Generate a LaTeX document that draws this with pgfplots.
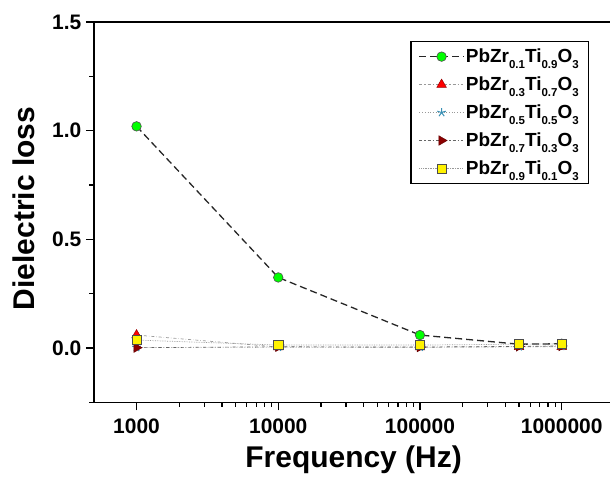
\documentclass[border=0pt]{standalone}
\usepackage{fontspec}
\setmainfont{Liberation Sans}
\usepackage{pgfplots}
\pgfplotsset{compat=1.18}
\usetikzlibrary{plotmarks}

\newcommand\sub[1]{\raisebox{-0.6ex}{\fontsize{11.5}{11.5}\selectfont\bfseries #1}}
\newcommand\pzt[2]{PbZr\sub{#1}Ti\sub{#2}O\sub{3}}

\begin{document}
\begin{tikzpicture}
\begin{axis}[
    scale only axis,
    width=517pt, height=381pt,
    xmode=log,
    xmin=500, xmax=2.2e6,
    ymin=-0.25, ymax=1.5,
    axis x line=box, axis y line=left,
    axis line style={-, line width=1.6pt},
    xtick pos=bottom, ytick pos=left,
    tick align=outside,
    major tick length=8pt, minor tick length=4.5pt,
    every tick/.style={black, line width=1.3pt},
    xtick={1000,10000,100000,1000000},
    xticklabels={1000,10000,100000,1000000},
    ytick={0,0.5,1,1.5},
    yticklabels={0.0,0.5,1.0,1.5},
    minor ytick={-0.25,0.25,0.75,1.25},
    ticklabel style={font=\fontsize{21}{21}\selectfont\bfseries},
    yticklabel style={xshift=-1pt},
    xticklabel style={yshift=-5pt},
    /pgf/number format/assume math mode=true,
    xlabel={Frequency (Hz)},
    ylabel={Dielectric loss},
    every axis x label/.style={at={(axis description cs:0.503,-0.15)}, anchor=center,
        font=\fontsize{30}{30}\selectfont\bfseries},
    every axis y label/.style={at={(axis description cs:-0.135,0.51)}, rotate=90, anchor=center,
        font=\fontsize{30}{30}\selectfont\bfseries},
    legend style={at={(0.613,0.950)}, anchor=north west,
        font=\fontsize{19}{19}\selectfont\bfseries,
        draw=black, line width=1.3pt, inner xsep=8pt, inner ysep=5.5pt,
        row sep=9pt, cells={anchor=west, text height=13.5pt, text depth=6pt}},
    legend image code/.code={
        \draw[#1, line width=0.8pt, mark repeat=2, mark phase=2]
            plot coordinates {(0cm,0cm) (0.78cm,0cm) (1.55cm,0cm)};},
    legend cell align=left,
    clip=false,
    after end axis/.code={
        \path (rel axis cs:0,1) ++(-94pt,22pt);
        \path (rel axis cs:0,0) ++(0,-72pt);
    },
]
% x = 0.1
\addplot[black!85, dash pattern=on 7pt off 4pt, line width=1.3pt, mark=*, mark size=4.8pt,
    mark options={solid, fill=green, draw=gray!60!black, line width=0.6pt}]
    coordinates {(1000,1.02) (10000,0.325) (100000,0.06) (500000,0.018) (1000000,0.02)};
% x = 0.3
\addplot[gray!80, dash dot, line width=0.7pt, mark=triangle*, mark size=5.5pt,
    mark options={solid, fill=red, draw=red!60!black, line width=0.5pt}]
    coordinates {(1000,0.06) (10000,0.005) (100000,0.004) (500000,0.006) (1000000,0.006)};
% x = 0.5
\addplot[gray!80, dotted, line width=0.7pt, mark=star, mark size=4.5pt,
    mark options={solid, draw=cyan!70!black, line width=1pt}]
    coordinates {(1000,0.003) (10000,0.004) (100000,0.004) (500000,0.006) (1000000,0.008)};
% x = 0.7
\addplot[gray!80!black, dash dot, line width=0.7pt, mark=triangle*, mark size=5.5pt,
    mark options={solid, rotate=-90, fill=red!55!black, draw=red!40!black, line width=0.5pt}]
    coordinates {(1000,0.002) (10000,0.006) (100000,0.005) (500000,0.008) (1000000,0.01)};
% x = 0.9
\addplot[gray!80, densely dotted, line width=0.7pt, mark=square*, mark size=4.6pt,
    mark options={solid, fill=yellow, draw=black!70, line width=0.6pt}]
    coordinates {(1000,0.037) (10000,0.014) (100000,0.014) (500000,0.018) (1000000,0.019)};
\legend{\pzt{0.1}{0.9},\pzt{0.3}{0.7},\pzt{0.5}{0.5},\pzt{0.7}{0.3},\pzt{0.9}{0.1}}
\end{axis}
\end{tikzpicture}
\end{document}
